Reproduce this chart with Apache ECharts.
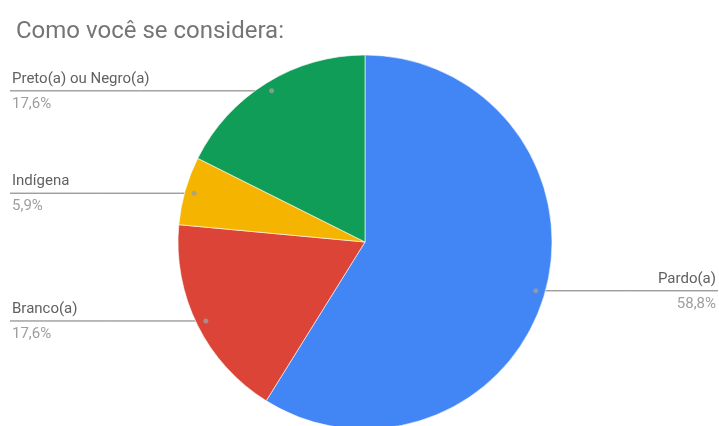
<!DOCTYPE html>
<html><head><meta charset="utf-8">
<script src="https://cdn.jsdelivr.net/npm/echarts@6/dist/echarts.min.js"></script>
<style>html,body{margin:0;padding:0;background:#fff}#c{width:719px;height:426px}</style>
</head><body><div id="c"></div>
<script>
const titleText = 'Como você se considera:';
const categories = ['Pardo(a)', 'Branco(a)', 'Indígena', 'Preto(a) ou Negro(a)'];
const values = [58.8, 17.6, 5.9, 17.6];
const colors = ['#4285F4', '#DB4437', '#F4B400', '#0F9D58'];

const CX = 365, CY = 242, R = 187, DOT = 0.95;
const total = values.reduce((a, b) => a + b, 0);
const midAngles = [];
let acc = 0;
values.forEach(v => { midAngles.push((acc + v / 2) / total * 360); acc += v; });
const dotPos = midAngles.map(a => {
  const rad = a * Math.PI / 180;
  return [CX + DOT * R * Math.sin(rad), CY - DOT * R * Math.cos(rad)];
});

const chart = echarts.init(document.getElementById('c'));
chart.setOption({
  backgroundColor: '#fff',
  animation: false,
  title: { text: titleText, left: 11, top: 15, textStyle: { fontFamily: 'Roboto', fontSize: 24, fontWeight: 'normal', color: '#757575' } },
  polar: { center: [CX, CY], radius: R },
  angleAxis: { type: 'value', min: 0, max: 360, startAngle: 90, clockwise: true, show: false },
  radiusAxis: { type: 'value', min: 0, max: 1, show: false },
  series: [{
    type: 'pie',
    center: [CX, CY],
    radius: R,
    startAngle: 90,
    clockwise: true,
    avoidLabelOverlap: false,
    data: categories.map((n, i) => ({ name: n, value: values[i], itemStyle: { color: colors[i] } })),
    itemStyle: { borderColor: '#ffffff', borderWidth: 0.6 },
    emphasis: { disabled: true },
    label: {
      show: true,
      position: 'outside',
      fontFamily: 'Roboto',
      formatter: p => '{n|' + p.name + '}\n{p|' + p.value.toFixed(1).replace('.', ',') + '%}',
      rich: {
        n: { fontFamily: 'Roboto', fontSize: 15, color: '#616161', lineHeight: 25 },
        p: { fontFamily: 'Roboto', fontSize: 15, color: '#9e9e9e', lineHeight: 25 }
      }
    },
    labelLine: { show: true, lineStyle: { color: '#757575', width: 1 } },
    labelLayout: function (params) {
      const i = params.dataIndex;
      const d = dotPos[i];
      const left = d[0] < CX;
      const endX = left ? 10 : 718;
      return {
        x: left ? 12 : 716,
        y: d[1] + 1,
        align: left ? 'left' : 'right',
        verticalAlign: 'middle',
        labelLinePoints: [[d[0], d[1]], [(d[0] + endX) / 2, d[1]], [endX, d[1]]]
      };
    }
  }, {
    type: 'scatter',
    coordinateSystem: 'polar',
    symbolSize: 5,
    itemStyle: { color: '#9e9e9e' },
    silent: true,
    z: 5,
    data: midAngles.map(a => [DOT, a])
  }]
});
</script>
</body></html>
